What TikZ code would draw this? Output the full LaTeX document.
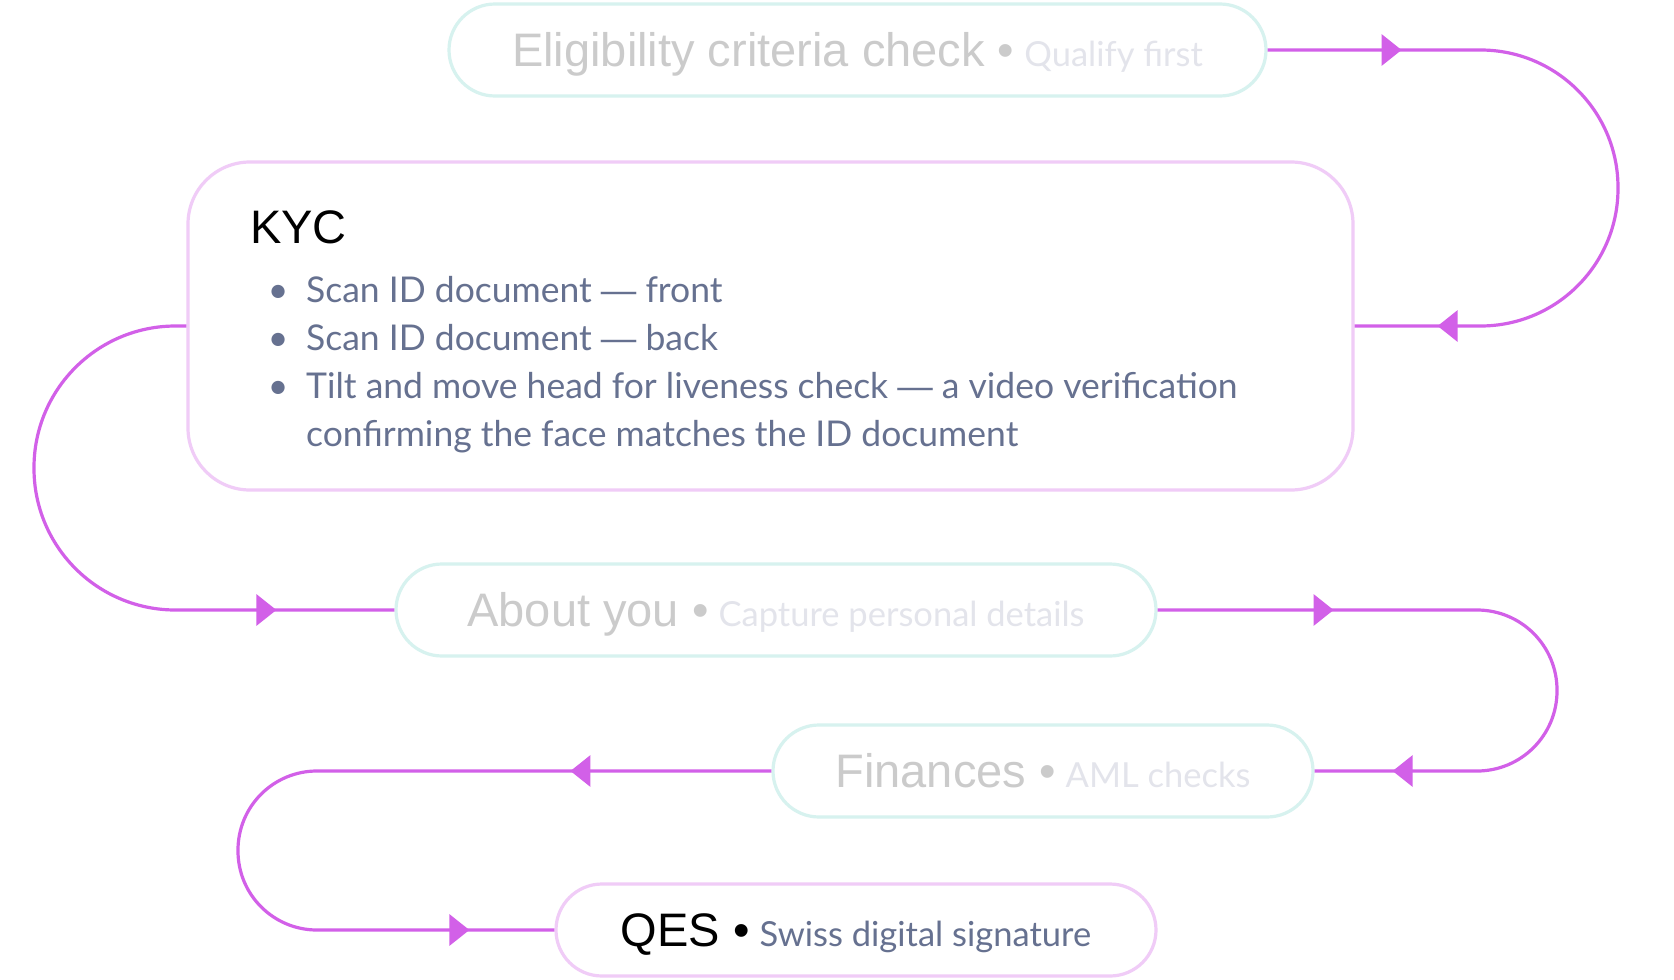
\documentclass[tikz,border=0pt]{standalone}
\usepackage{fontspec}
\setmainfont{Lato}
\newfontfamily\headfont{Liberation Sans}
\usetikzlibrary{arrows.meta,decorations.markings}

\definecolor{flowpink}{HTML}{D260E8}
\definecolor{paleborder}{HTML}{D7F2EF}
\definecolor{liveborder}{HTML}{F0CCF7}
\definecolor{palehead}{HTML}{CBCBCB}
\definecolor{palesub}{HTML}{E3E4EB}
\definecolor{slate}{HTML}{667190}

\tikzset{pill/.style={draw, line width=3.2pt, rounded corners=46pt, minimum height=92pt, inner sep=0pt, text height=33.6pt, text depth=0pt}}
\tikzset{paled/.style={pill, draw=paleborder}}
\tikzset{live/.style={pill, draw=liveborder}}
\tikzset{flow/.style={draw=flowpink, line width=3.2pt}}
\tikzset{arrowat/.style={postaction={decorate, decoration={markings, mark=at position #1 with {\arrow{Triangle[length=20pt,width=31pt]}}}}}}

\newcommand{\steplabel}[5]{{\headfont\fontsize{47}{56}\selectfont\color{#1}#4 \color{#2}•}\hspace{10pt}{\fontsize{34.5}{42}\selectfont\color{#3}#5}}
\newcommand{\longdash}{{\headfont —}}

\begin{document}
\begin{tikzpicture}[x=1pt, y=-1pt]

    \fill[white] (0,0) rectangle (1674,980);
    \useasboundingbox (0,0) rectangle (1674,980);

    % steps
    \node[paled, minimum width=817pt] (elig) at (857.5,50) {\steplabel{palehead}{palehead}{palesub}{Eligibility criteria check}{Qualify first}};
    \node[draw=liveborder, line width=3.2pt, rounded corners=62pt, minimum width=1165pt, minimum height=328pt] (kyc) at (770.5,326) {};
    \node[paled, minimum width=760pt] (about) at (776,610) {\steplabel{palehead}{palehead}{palesub}{About you}{Capture personal details}};
    \node[paled, minimum width=540pt] (fin) at (1043,771) {\steplabel{palehead}{palehead}{palesub}{Finances}{AML checks}};
    \node[live, minimum width=600pt] (qes) at (856,930) {\steplabel{black}{black}{slate}{QES}{Swiss digital signature}};

    % KYC content
    \node[anchor=base west, inner sep=0pt] (kychead) at (250,243) {\headfont\fontsize{47}{56}\selectfont KYC};
    \node[anchor=base west, inner sep=0pt, text=slate] (kyclist) at (250,302) {\fontsize{35.5}{48}\selectfont
        \begin{tabular}[t]{@{}l@{}l@{}}
        \makebox[56pt]{•} & Scan ID document \longdash{} front \\
        \makebox[56pt]{•} & Scan ID document \longdash{} back \\
        \makebox[56pt]{•} & Tilt and move head for liveness check \longdash{} a video verification \\
                          & confirming the face matches the ID document
        \end{tabular}};

    % flow
    \draw[flow, rounded corners=137.5pt, arrowat=134pt, arrowat=-83pt] (elig.east) -- (1618,50) -- (1618,326) -- (kyc.east);
    \draw[flow, rounded corners=141.5pt, arrowat=-118pt] (kyc.west) -- (34,326) -- (34,610) -- (about.west);
    \draw[flow, rounded corners=80pt, arrowat=176pt, arrowat=-78pt] (about.east) -- (1557,610) -- (1557,771) -- (fin.east);
    \draw[flow, rounded corners=79pt, arrowat=201pt, arrowat=-85pt] (fin.west) -- (238,771) -- (238,930) -- (qes.west);

\end{tikzpicture}
\end{document}
